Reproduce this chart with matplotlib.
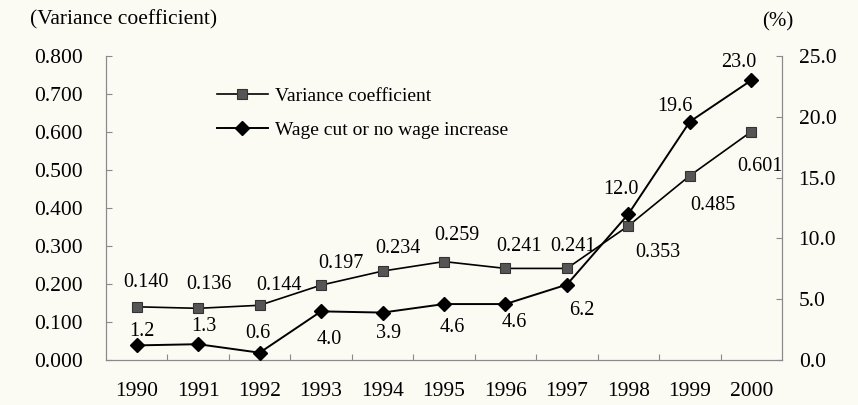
import matplotlib
matplotlib.use("Agg")
import matplotlib.pyplot as plt
from matplotlib.ticker import FixedLocator, FormatStrFormatter

plt.rcParams['font.family'] = ['Liberation Serif', 'DejaVu Serif']

years = ['1990', '1991', '1992', '1993', '1994', '1995', '1996', '1997', '1998', '1999', '2000']
variance = [0.140, 0.136, 0.144, 0.197, 0.234, 0.259, 0.241, 0.241, 0.353, 0.485, 0.601]
wage_cut = [1.2, 1.3, 0.6, 4.0, 3.9, 4.6, 4.6, 6.2, 12.0, 19.6, 23.0]
var_label_text = ['0.140', '0.136', '0.144', '0.197', '0.234', '0.259', '0.241', '0.241', '0.353', '0.485', '0.601']
wage_label_text = ['1.2', '1.3', '0.6', '4.0', '3.9', '4.6', '4.6', '6.2', '12.0', '19.6', '23.0']

# label offsets in pixels (dx, dy up-positive)
var_offsets = [(9, 24), (11, 24), (19, 20), (20, 22), (15, 23), (13, 26), (14, 22), (6, 22),
               (29, -27), (23, -30), (9, -35)]
wage_offsets = [(5, 14), (6, 18), (-2, 19), (8, -28), (6, -21), (8, -23), (9, -18), (15, -26),
                (-7, 25), (-15, 15), (-13, 18)]

BG = '#fbfbf3'
SPINE = '#8a8a8a'

fig = plt.figure(figsize=(8.58, 4.05), dpi=100, facecolor=BG)
ax = fig.add_axes([106 / 858, 1 - 360 / 405, (782 - 106) / 858, (360 - 56) / 405])
ax.set_facecolor(BG)
ax2 = ax.twinx()

x = list(range(len(years)))
l1, = ax.plot(x, variance, color='black', lw=1.2, marker='s', markersize=7.5,
              markerfacecolor='#555555', markeredgecolor='#333333', markeredgewidth=0.8,
              label='Variance coefficient', zorder=3)
l2, = ax2.plot(x, wage_cut, color='black', lw=1.4, marker='D', markersize=7,
               markerfacecolor='black', markeredgecolor='black',
               label='Wage cut or no wage increase', zorder=3)

ax.set_xlim(-0.5, len(years) - 0.5)
ax.set_ylim(0, 0.8)
ax2.set_ylim(0, 25)

ax.yaxis.set_major_locator(FixedLocator([i / 10 for i in range(9)]))
ax.yaxis.set_major_formatter(FormatStrFormatter('%.3f'))
ax2.yaxis.set_major_locator(FixedLocator([0, 5, 10, 15, 20, 25]))
ax2.yaxis.set_major_formatter(FormatStrFormatter('%.1f'))

ax.set_xticks(x)
ax.set_xticklabels(years)
ax.set_xticks([i + 0.5 for i in range(len(years) - 1)], minor=True)
ax.tick_params(axis='x', which='major', length=0, pad=16, labelsize=15.5)
ax.tick_params(axis='x', which='minor', direction='in', length=4, color=SPINE, width=0.8)
ax.tick_params(axis='y', direction='in', length=4, color=SPINE, width=0.8, pad=17, labelsize=15.5)
ax2.tick_params(axis='y', direction='in', length=4, color=SPINE, width=0.8, pad=12, labelsize=15.5)

for a in (ax, ax2):
    a.spines['top'].set_visible(False)
    for s in ('left', 'right', 'bottom'):
        a.spines[s].set_color(SPINE)
        a.spines[s].set_linewidth(0.8)

for xi, v, t, (dx, dy) in zip(x, variance, var_label_text, var_offsets):
    ax.annotate(t, (xi, v), xytext=(dx, dy), textcoords='offset pixels',
                ha='center', va='center', fontsize=14.5, zorder=5)
for xi, v, t, (dx, dy) in zip(x, wage_cut, wage_label_text, wage_offsets):
    ax2.annotate(t, (xi, v), xytext=(dx, dy), textcoords='offset pixels',
                 ha='center', va='center', fontsize=14.5, zorder=5)

fig.text(30 / 858, 1 - 20 / 405, '(Variance coefficient)', ha='left', va='center', fontsize=15.5)
fig.text(778 / 858, 1 - 22 / 405, '(%)', ha='center', va='center', fontsize=15)

ax2.legend(handles=[l1, l2], loc='upper left', bbox_to_anchor=(217 / 858, 1 - 87 / 405),
           bbox_transform=fig.transFigure, frameon=False, fontsize=14,
           handlelength=2.6, handletextpad=0.4, labelspacing=0.85, borderpad=0,
           borderaxespad=0)

fig.savefig('out.png', dpi=100, facecolor=BG)
